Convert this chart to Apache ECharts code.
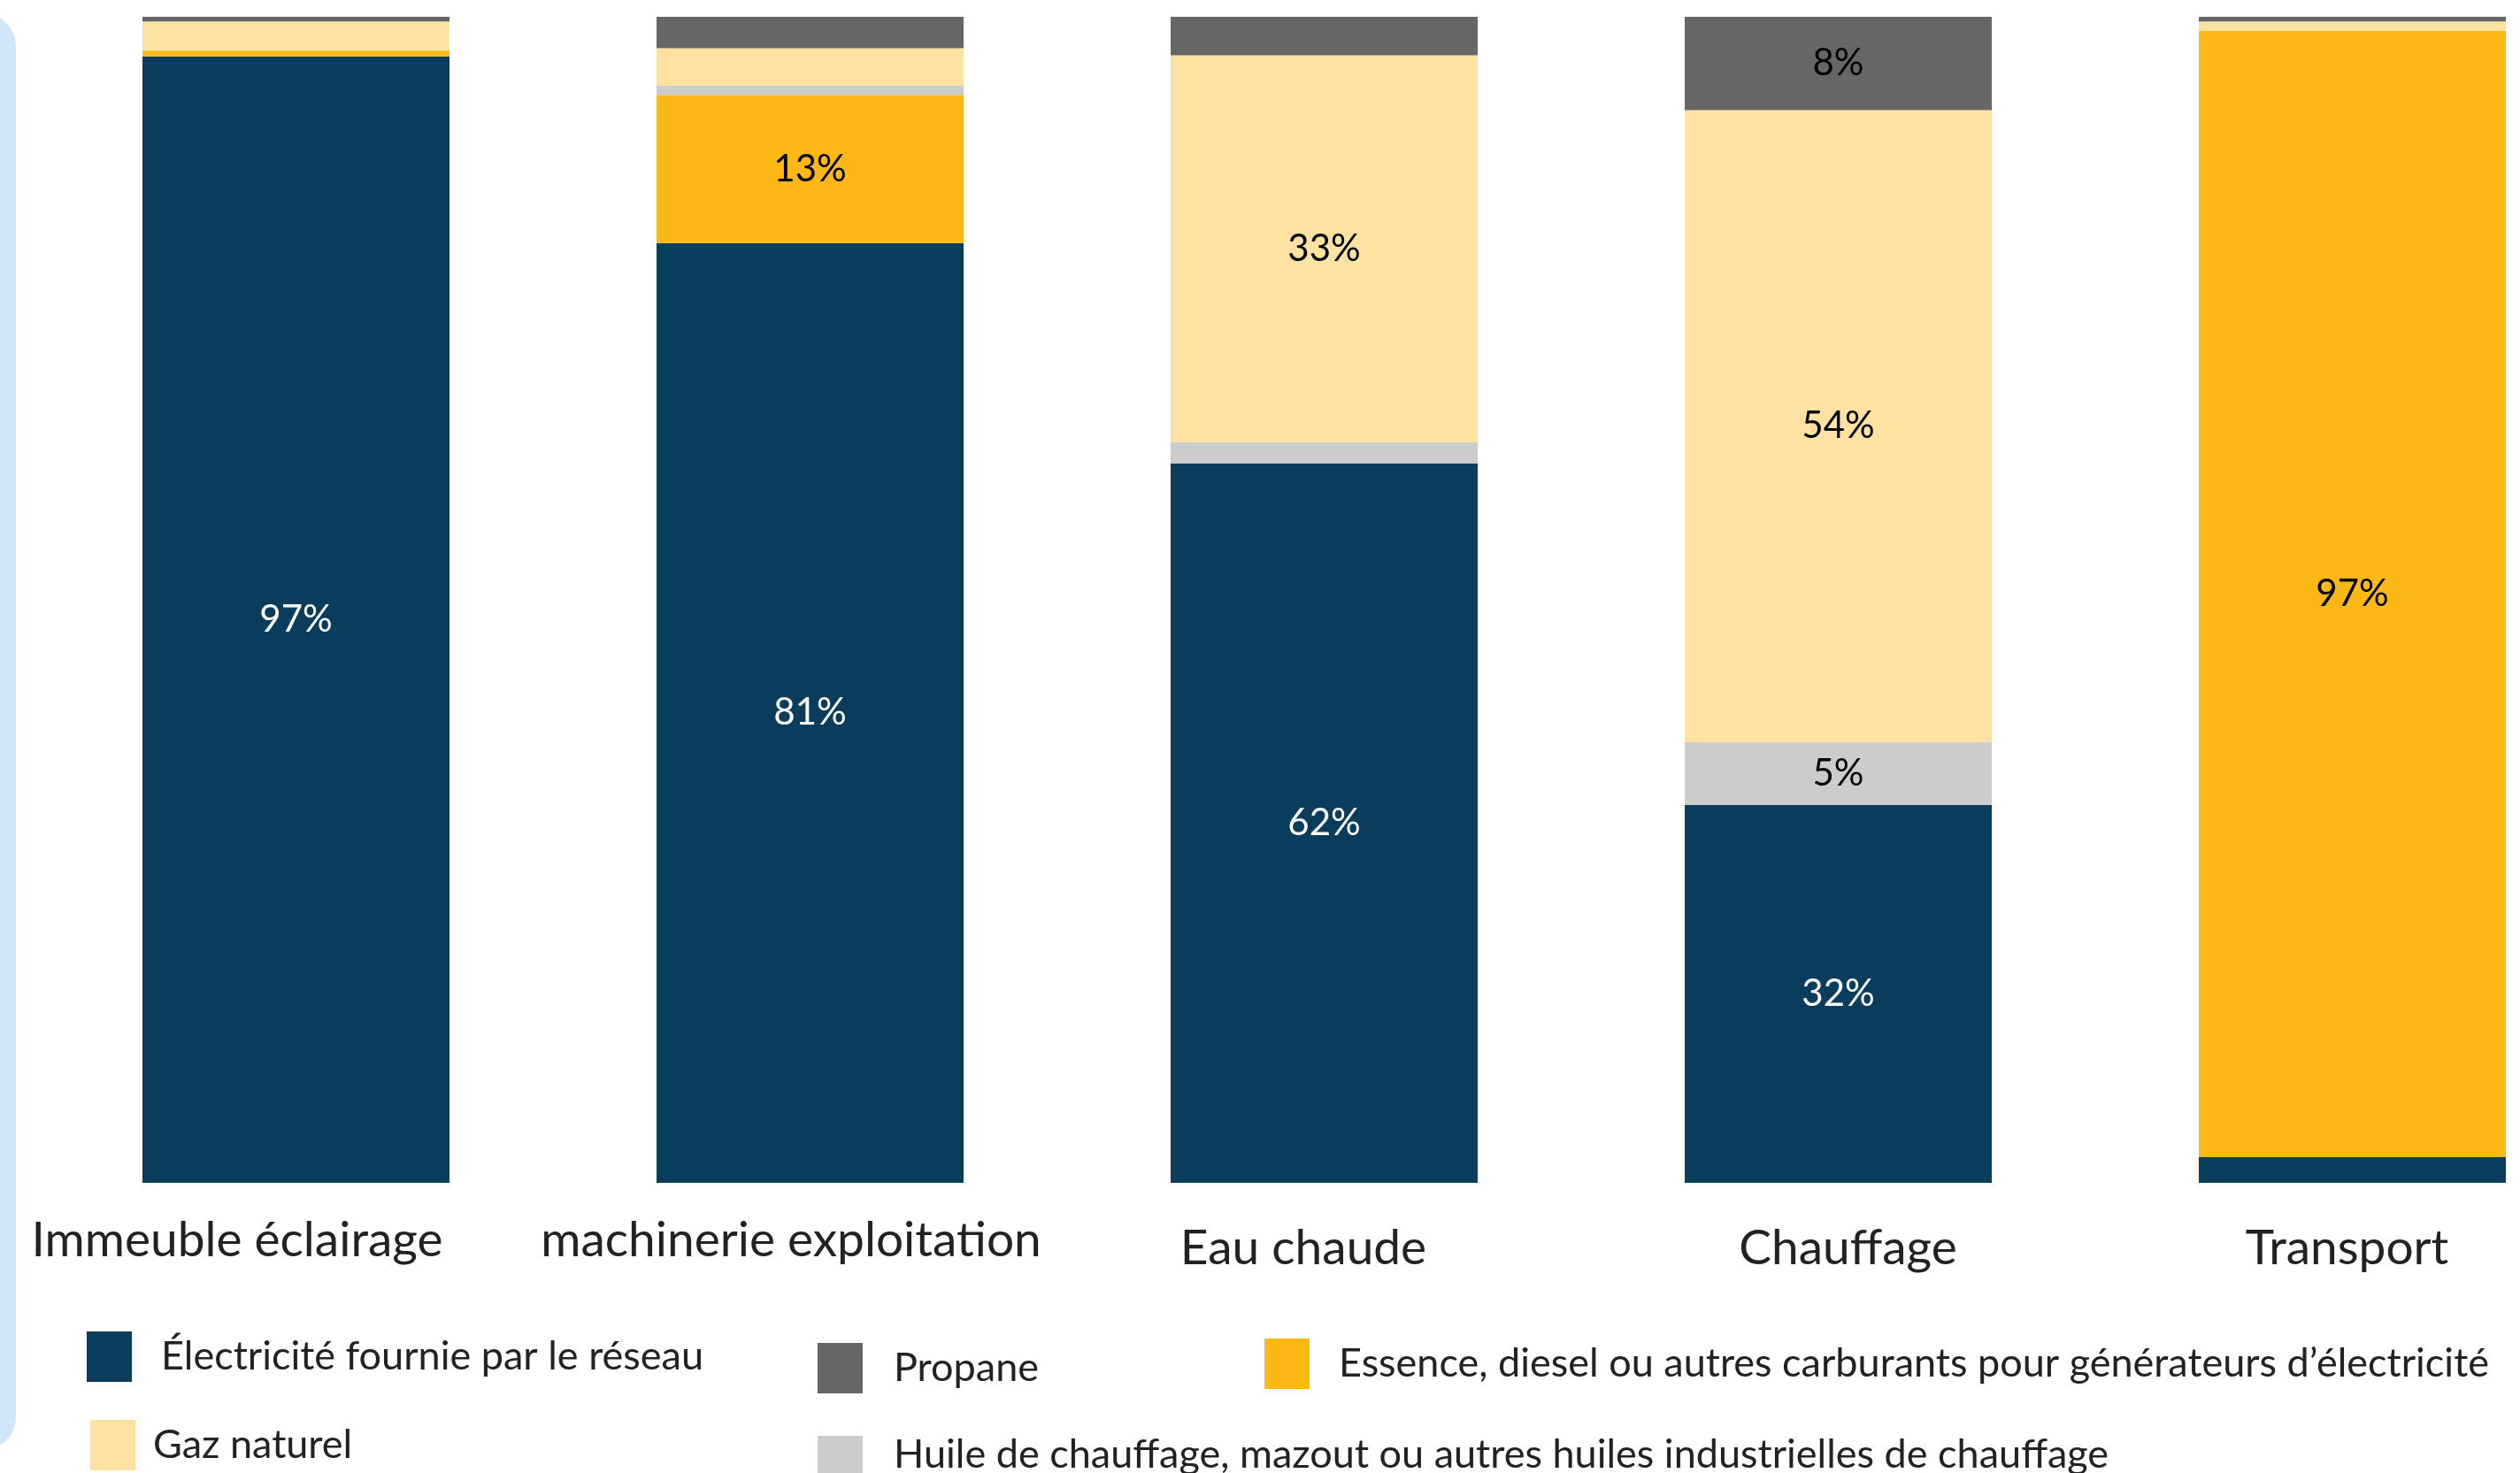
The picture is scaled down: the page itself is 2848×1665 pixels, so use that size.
<!DOCTYPE html>
<html><head><meta charset="utf-8">
<script src="https://cdn.jsdelivr.net/npm/echarts@6/dist/echarts.min.js"></script>
<style>html,body{margin:0;padding:0;background:#fff;}#c{width:2848px;height:1665px;}</style>
</head><body><div id="c"></div>
<script>
const categories = ['Immeuble éclairage', 'machinerie exploitation', 'Eau chaude', 'Chauffage', 'Transport'];
const seriesNames = [
  'Électricité fournie par le réseau',
  'Essence, diesel ou autres carburants pour générateurs d’électricité',
  'Huile de chauffage, mazout ou autres huiles industrielles de chauffage',
  'Gaz naturel',
  'Propane'
];
const electricite = [96.6, 80.6, 61.7, 32.4, 2.2];
const essence     = [0.5, 12.7, 0, 0, 96.6];
const huile       = [0, 0.8, 1.8, 5.4, 0];
const gazNaturel  = [2.5, 3.2, 33.2, 54.2, 0.8];
const propane     = [0.4, 2.8, 3.3, 8.0, 0.4];

const colors = ['#0A3D5C', '#FCB916', '#CCCCCC', '#FDE2A1', '#666666'];
const labelColors = ['#ffffff', '#000000', '#000000', '#000000', '#000000'];
const values = [electricite, essence, huile, gazNaturel, propane];
const FONT = 'Lato, "Noto Sans", sans-serif';

const series = seriesNames.map((n, i) => ({
  name: n, type: 'bar', stack: 'total', barWidth: 347,
  data: values[i],
  itemStyle: { color: colors[i] },
  label: {
    show: true, position: 'inside', color: labelColors[i],
    fontFamily: FONT, fontSize: 42,
    formatter: p => p.value >= 4.5 ? Math.round(p.value) + '%' : ''
  },
  silent: true
}));

const legendPos = [
  { left: 98, top: 1505, h: 57, pad: [6, 0, 0, 28] },
  { left: 1429, top: 1513, h: 57, pad: [10, 0, 0, 28] },
  { left: 924, top: 1622, h: 43, pad: [0, 0, 12, 30] },
  { left: 102, top: 1605, h: 57, pad: [6, 0, 0, 15] },
  { left: 924, top: 1518, h: 57, pad: [0, 0, 0, 30] }
];
const legends = seriesNames.map((n, i) => ({
  data: [n], left: legendPos[i].left, top: legendPos[i].top, padding: 0,
  itemWidth: 51, itemHeight: legendPos[i].h, icon: 'rect', selectedMode: false,
  textStyle: { fontFamily: FONT, fontSize: 45, color: '#222', padding: legendPos[i].pad }
}));

const lab = (pad) => ({ fontFamily: FONT, fontSize: 55, color: '#222', padding: pad });

const chart = echarts.init(document.getElementById('c'));
chart.setOption({
  animation: false,
  graphic: [{ type: 'rect', shape: { x: -60, y: 14, width: 78, height: 1626, r: 40 }, style: { fill: '#D0E6F8' }, silent: true }],
  grid: { left: 44, width: 2905, top: 19, bottom: 328, containLabel: false, outerBoundsMode: 'none' },
  legend: legends,
  xAxis: {
    type: 'category', data: categories,
    axisLine: { show: false }, axisTick: { show: false },
    axisLabel: {
      margin: 38, interval: 0, color: '#222', fontFamily: FONT, fontSize: 55,
      formatter: (v, i) => '{c' + i + '|' + v + '}',
      rich: {
        c0: lab([0, 133, 0, 0]),
        c1: lab([0, 43, 0, 0]),
        c2: lab([9, 47, 0, 0]),
        c3: lab([9, 0, 0, 22]),
        c4: lab([9, 12, 0, 0])
      }
    }
  },
  yAxis: { type: 'value', min: 0, max: 100, show: false },
  series: series
});
</script></body></html>
